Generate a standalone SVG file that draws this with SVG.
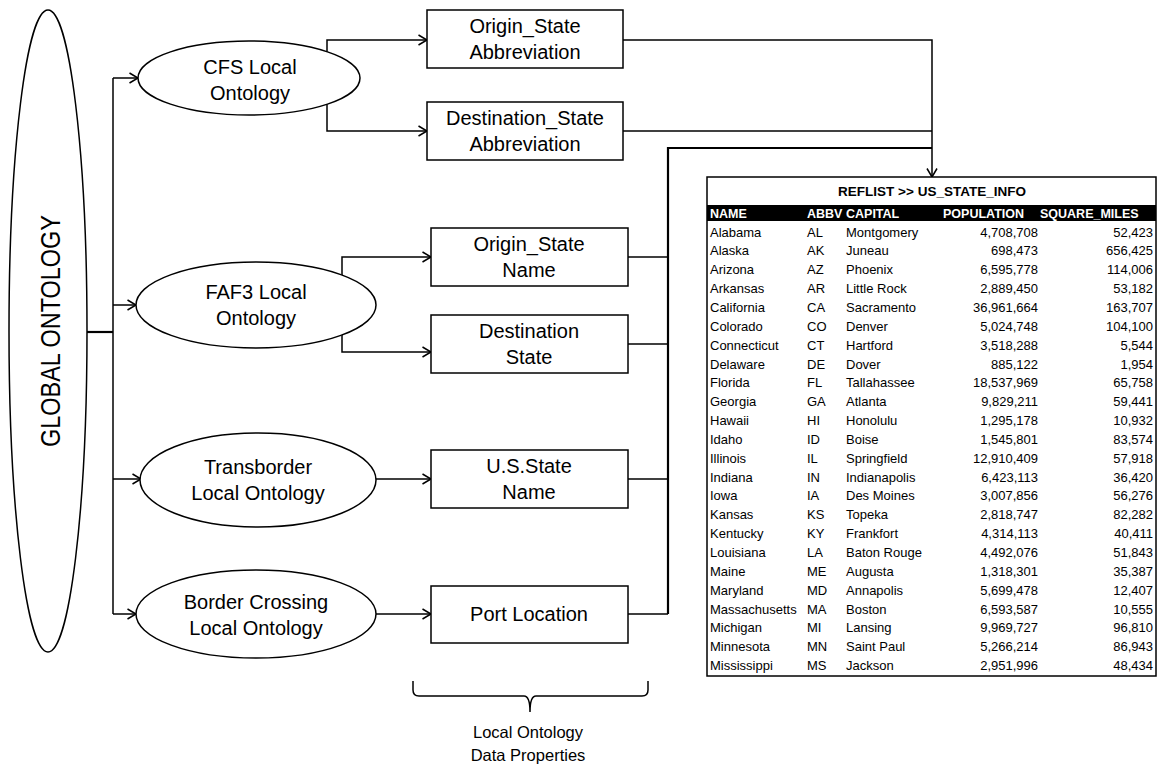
<svg xmlns="http://www.w3.org/2000/svg" width="1159" height="767" viewBox="0 0 1159 767">
  <style>
    .shape { fill: #fff; stroke: #000; stroke-width: 1.5; }
    .lbl { font-family: "Liberation Sans", Arial, sans-serif; font-size: 20px; fill: #000; text-anchor: middle; }
    .ln { fill: none; stroke: #000; stroke-width: 1.5; }
    .lnb { fill: none; stroke: #000; stroke-width: 2.2; }
    .arr { marker-end: url(#vee); }
    .cell { font-family: "Liberation Sans", Arial, sans-serif; font-size: 13px; fill: #000; }
    .num { text-anchor: end; }
    .hd { font-family: "Liberation Sans", Arial, sans-serif; font-size: 12.5px; font-weight: bold; fill: #fff; }
    .ttl { font-family: "Liberation Sans", Arial, sans-serif; font-size: 13.5px; font-weight: bold; fill: #000; text-anchor: middle; }
  </style>
  <defs>
    <marker id="vee" markerUnits="userSpaceOnUse" markerWidth="12" markerHeight="12" refX="10" refY="6" orient="auto">
      <path d="M1.5,1 L10,6 L1.5,11" fill="none" stroke="#000" stroke-width="1.5"/>
    </marker>
  </defs>

  <rect width="1159" height="767" fill="#fff"/>

  <!-- connectors -->
  <g id="connectors">
    <path class="lnb" d="M87,332 H113"/>
    <path class="ln" d="M113,78 V614"/>
    <path class="ln arr" d="M113,78 H138"/>
    <path class="ln arr" d="M113,305 H136"/>
    <path class="ln arr" d="M113,479 H141"/>
    <path class="ln arr" d="M113,614 H136"/>

    <path class="ln arr" d="M327,52 V40 H427"/>
    <path class="ln arr" d="M327,104 V131 H427"/>
    <path class="ln arr" d="M342,275 V257 H431"/>
    <path class="ln arr" d="M342,335 V352 H431"/>
    <path class="ln arr" d="M376,479 H431"/>
    <path class="ln arr" d="M376,614 H431"/>

    <path class="ln arr" d="M623,40 H932 V177"/>
    <path class="ln" d="M623,131 H932"/>
    <path class="ln" d="M628,257 H668"/>
    <path class="ln" d="M628,344 H668"/>
    <path class="ln" d="M628,479 H668"/>
    <path class="ln" d="M628,614 H668"/>
    <path class="lnb" d="M668,614 V148 H932"/>
  </g>

  <!-- global ontology -->
  <g id="global-ontology">
    <ellipse class="shape" cx="48" cy="331" rx="39" ry="321"/>
    <text transform="translate(60,331) rotate(-90)" x="0" y="0" font-family="'Liberation Sans', Arial, sans-serif" font-size="28" text-anchor="middle" textLength="232" lengthAdjust="spacingAndGlyphs">GLOBAL ONTOLOGY</text>
  </g>

  <!-- local ontologies -->
  <g id="cfs-local-ontology">
    <ellipse class="shape" cx="249" cy="78" rx="111" ry="37"/>
    <text class="lbl" x="250" y="74">CFS Local</text>
    <text class="lbl" x="250" y="100">Ontology</text>
  </g>
  <g id="faf3-local-ontology">
    <ellipse class="shape" cx="256" cy="305" rx="120" ry="43"/>
    <text class="lbl" x="256" y="299">FAF3 Local</text>
    <text class="lbl" x="256" y="325">Ontology</text>
  </g>
  <g id="transborder-local-ontology">
    <ellipse class="shape" cx="258" cy="480" rx="118" ry="47"/>
    <text class="lbl" x="258" y="474">Transborder</text>
    <text class="lbl" x="258" y="500">Local Ontology</text>
  </g>
  <g id="border-crossing-local-ontology">
    <ellipse class="shape" cx="256" cy="614" rx="120" ry="44"/>
    <text class="lbl" x="256" y="609">Border Crossing</text>
    <text class="lbl" x="256" y="635">Local Ontology</text>
  </g>

  <!-- data properties -->
  <g id="cfs-origin-state-abbreviation">
    <rect class="shape" x="427" y="10" width="196" height="58"/>
    <text class="lbl" x="525" y="33">Origin_State</text>
    <text class="lbl" x="525" y="59">Abbreviation</text>
  </g>
  <g id="cfs-destination-state-abbreviation">
    <rect class="shape" x="427" y="102" width="196" height="58"/>
    <text class="lbl" x="525" y="125">Destination_State</text>
    <text class="lbl" x="525" y="151">Abbreviation</text>
  </g>
  <g id="faf3-origin-state-name">
    <rect class="shape" x="431" y="228" width="197" height="58"/>
    <text class="lbl" x="529" y="251">Origin_State</text>
    <text class="lbl" x="529" y="277">Name</text>
  </g>
  <g id="faf3-destination-state">
    <rect class="shape" x="431" y="315" width="197" height="58"/>
    <text class="lbl" x="529" y="338">Destination</text>
    <text class="lbl" x="529" y="364">State</text>
  </g>
  <g id="transborder-us-state-name">
    <rect class="shape" x="431" y="450" width="197" height="58"/>
    <text class="lbl" x="529" y="473">U.S.State</text>
    <text class="lbl" x="529" y="499">Name</text>
  </g>
  <g id="border-port-location">
    <rect class="shape" x="431" y="586" width="197" height="57"/>
    <text class="lbl" x="529" y="621">Port Location</text>
  </g>

  <!-- brace grouping the data properties -->
  <g id="data-properties-brace">
    <path class="ln" d="M413,681 V690 Q413,696 419,696 H524 Q530,696 530,712 Q530,696 536,696 H642 Q648,696 648,690 V681"/>
    <text x="528" y="738" font-family="'Liberation Sans', Arial, sans-serif" font-size="16.5" text-anchor="middle">Local Ontology</text>
    <text x="528" y="761" font-family="'Liberation Sans', Arial, sans-serif" font-size="16.5" text-anchor="middle">Data Properties</text>
  </g>

  <!-- reference list table -->
  <g id="reflist-us-state-info">
    <rect x="707" y="177" width="449" height="499" fill="#fff" stroke="#000" stroke-width="1.5"/>
    <text class="ttl" x="932" y="196">REFLIST &gt;&gt; US_STATE_INFO</text>
    <rect x="707" y="205" width="449" height="16" fill="#000"/>
    <text class="hd" x="710" y="218">NAME</text>
    <text class="hd" x="807" y="218">ABBV</text>
    <text class="hd" x="846" y="218">CAPITAL</text>
    <text class="hd" x="943" y="218">POPULATION</text>
    <text class="hd" x="1040" y="218">SQUARE_MILES</text>

    <g class="cell">
      <text x="710" y="236.5">Alabama</text><text x="807" y="236.5">AL</text><text x="846" y="236.5">Montgomery</text><text class="num" x="1038" y="236.5">4,708,708</text><text class="num" x="1153" y="236.5">52,423</text>
      <text x="710" y="255.4">Alaska</text><text x="807" y="255.4">AK</text><text x="846" y="255.4">Juneau</text><text class="num" x="1038" y="255.4">698,473</text><text class="num" x="1153" y="255.4">656,425</text>
      <text x="710" y="274.2">Arizona</text><text x="807" y="274.2">AZ</text><text x="846" y="274.2">Phoenix</text><text class="num" x="1038" y="274.2">6,595,778</text><text class="num" x="1153" y="274.2">114,006</text>
      <text x="710" y="293.1">Arkansas</text><text x="807" y="293.1">AR</text><text x="846" y="293.1">Little Rock</text><text class="num" x="1038" y="293.1">2,889,450</text><text class="num" x="1153" y="293.1">53,182</text>
      <text x="710" y="311.9">California</text><text x="807" y="311.9">CA</text><text x="846" y="311.9">Sacramento</text><text class="num" x="1038" y="311.9">36,961,664</text><text class="num" x="1153" y="311.9">163,707</text>
      <text x="710" y="330.8">Colorado</text><text x="807" y="330.8">CO</text><text x="846" y="330.8">Denver</text><text class="num" x="1038" y="330.8">5,024,748</text><text class="num" x="1153" y="330.8">104,100</text>
      <text x="710" y="349.6">Connecticut</text><text x="807" y="349.6">CT</text><text x="846" y="349.6">Hartford</text><text class="num" x="1038" y="349.6">3,518,288</text><text class="num" x="1153" y="349.6">5,544</text>
      <text x="710" y="368.5">Delaware</text><text x="807" y="368.5">DE</text><text x="846" y="368.5">Dover</text><text class="num" x="1038" y="368.5">885,122</text><text class="num" x="1153" y="368.5">1,954</text>
      <text x="710" y="387.3">Florida</text><text x="807" y="387.3">FL</text><text x="846" y="387.3">Tallahassee</text><text class="num" x="1038" y="387.3">18,537,969</text><text class="num" x="1153" y="387.3">65,758</text>
      <text x="710" y="406.2">Georgia</text><text x="807" y="406.2">GA</text><text x="846" y="406.2">Atlanta</text><text class="num" x="1038" y="406.2">9,829,211</text><text class="num" x="1153" y="406.2">59,441</text>
      <text x="710" y="425.0">Hawaii</text><text x="807" y="425.0">HI</text><text x="846" y="425.0">Honolulu</text><text class="num" x="1038" y="425.0">1,295,178</text><text class="num" x="1153" y="425.0">10,932</text>
      <text x="710" y="443.9">Idaho</text><text x="807" y="443.9">ID</text><text x="846" y="443.9">Boise</text><text class="num" x="1038" y="443.9">1,545,801</text><text class="num" x="1153" y="443.9">83,574</text>
      <text x="710" y="462.7">Illinois</text><text x="807" y="462.7">IL</text><text x="846" y="462.7">Springfield</text><text class="num" x="1038" y="462.7">12,910,409</text><text class="num" x="1153" y="462.7">57,918</text>
      <text x="710" y="481.6">Indiana</text><text x="807" y="481.6">IN</text><text x="846" y="481.6">Indianapolis</text><text class="num" x="1038" y="481.6">6,423,113</text><text class="num" x="1153" y="481.6">36,420</text>
      <text x="710" y="500.4">Iowa</text><text x="807" y="500.4">IA</text><text x="846" y="500.4">Des Moines</text><text class="num" x="1038" y="500.4">3,007,856</text><text class="num" x="1153" y="500.4">56,276</text>
      <text x="710" y="519.3">Kansas</text><text x="807" y="519.3">KS</text><text x="846" y="519.3">Topeka</text><text class="num" x="1038" y="519.3">2,818,747</text><text class="num" x="1153" y="519.3">82,282</text>
      <text x="710" y="538.1">Kentucky</text><text x="807" y="538.1">KY</text><text x="846" y="538.1">Frankfort</text><text class="num" x="1038" y="538.1">4,314,113</text><text class="num" x="1153" y="538.1">40,411</text>
      <text x="710" y="557.0">Louisiana</text><text x="807" y="557.0">LA</text><text x="846" y="557.0">Baton Rouge</text><text class="num" x="1038" y="557.0">4,492,076</text><text class="num" x="1153" y="557.0">51,843</text>
      <text x="710" y="575.8">Maine</text><text x="807" y="575.8">ME</text><text x="846" y="575.8">Augusta</text><text class="num" x="1038" y="575.8">1,318,301</text><text class="num" x="1153" y="575.8">35,387</text>
      <text x="710" y="594.7">Maryland</text><text x="807" y="594.7">MD</text><text x="846" y="594.7">Annapolis</text><text class="num" x="1038" y="594.7">5,699,478</text><text class="num" x="1153" y="594.7">12,407</text>
      <text x="710" y="613.5">Massachusetts</text><text x="807" y="613.5">MA</text><text x="846" y="613.5">Boston</text><text class="num" x="1038" y="613.5">6,593,587</text><text class="num" x="1153" y="613.5">10,555</text>
      <text x="710" y="632.4">Michigan</text><text x="807" y="632.4">MI</text><text x="846" y="632.4">Lansing</text><text class="num" x="1038" y="632.4">9,969,727</text><text class="num" x="1153" y="632.4">96,810</text>
      <text x="710" y="651.2">Minnesota</text><text x="807" y="651.2">MN</text><text x="846" y="651.2">Saint Paul</text><text class="num" x="1038" y="651.2">5,266,214</text><text class="num" x="1153" y="651.2">86,943</text>
      <text x="710" y="670.1">Mississippi</text><text x="807" y="670.1">MS</text><text x="846" y="670.1">Jackson</text><text class="num" x="1038" y="670.1">2,951,996</text><text class="num" x="1153" y="670.1">48,434</text>
    </g>
  </g>
</svg>
